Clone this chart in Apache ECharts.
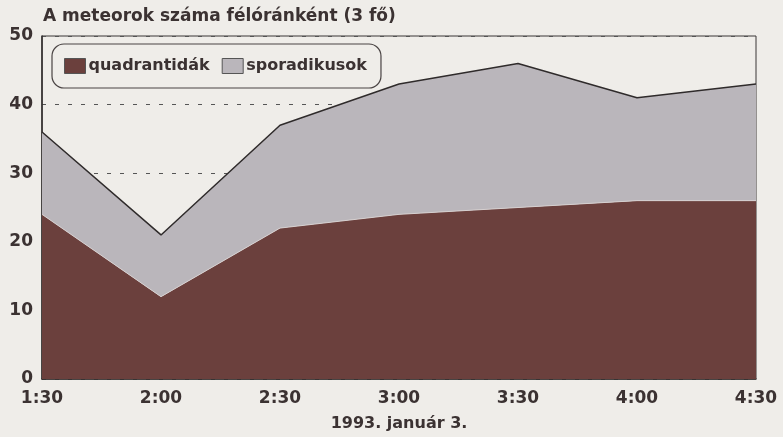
<!DOCTYPE html>
<html>
<head>
<meta charset="utf-8">
<script src="https://cdn.jsdelivr.net/npm/echarts@6/dist/echarts.min.js"></script>
<style>
  html, body { margin: 0; padding: 0; background: #efede9; }
  #chart { width: 783px; height: 437px; }
</style>
</head>
<body>
<div id="chart"></div>
<script>
// félórás időpontok
const times = ['1:30', '2:00', '2:30', '3:00', '3:30', '4:00', '4:30']
const quadrantidak = [24, 12, 22, 24, 25, 26, 26]
const sporadikusok = [12, 9, 15, 19, 21, 15, 17]
const yTicks = [0, 10, 20, 30, 40, 50]

const font = 'DejaVu Sans'
const ink = '#3b3232'

const chart = echarts.init(document.getElementById('chart'))
chart.setOption({
  backgroundColor: '#efede9',
  animation: false,
  title: {
    text: 'A meteorok száma félóránként (3 fő)',
    left: 38,
    top: 3,
    textStyle: { fontFamily: font, fontWeight: 'bold', fontSize: 17, color: ink }
  },
  legend: {
    left: 52,
    top: 44,
    icon: 'rect',
    itemWidth: 21,
    itemHeight: 15,
    itemGap: 12,
    padding: [14, 14, 14, 12],
    borderColor: '#4a4444',
    borderWidth: 1.2,
    borderRadius: 12,
    itemStyle: { borderColor: '#555', borderWidth: 1 },
    textStyle: { fontFamily: font, fontWeight: 'bold', fontSize: 16, color: ink, padding: [0, 0, 0, -2] },
    data: ['quadrantidák', 'sporadikusok']
  },
  grid: {
    left: 42,
    right: 27,
    top: 36,
    bottom: 52,
    show: true,
    borderColor: '#3a3636',
    borderWidth: 1
  },
  xAxis: {
    type: 'category',
    data: times,
    boundaryGap: false,
    name: '1993. január 3.',
    nameLocation: 'middle',
    nameGap: 37,
    nameTextStyle: { fontFamily: font, fontWeight: 'bold', fontSize: 16, color: ink },
    axisLine: { lineStyle: { color: '#2e2a2a', width: 1.5 } },
    axisTick: { show: false },
    axisLabel: { fontFamily: font, fontWeight: 'bold', fontSize: 17, color: ink, margin: 11 },
    splitLine: { show: false }
  },
  yAxis: {
    type: 'value',
    min: yTicks[0],
    max: yTicks[yTicks.length - 1],
    interval: 10,
    axisLine: { show: true, lineStyle: { color: '#2e2a2a', width: 1.5 } },
    axisTick: { show: false },
    axisLabel: { fontFamily: font, fontWeight: 'bold', fontSize: 17, color: ink, margin: 9 },
    splitLine: { lineStyle: { color: '#555', type: [4, 9], width: 1 } }
  },
  series: [
    {
      name: 'quadrantidák',
      type: 'line',
      stack: 'total',
      symbol: 'none',
      color: '#6b403d',
      lineStyle: { color: '#d6d0d0', width: 1 },
      areaStyle: { color: '#6b403d', opacity: 1 },
      data: quadrantidak
    },
    {
      name: 'sporadikusok',
      type: 'line',
      stack: 'total',
      symbol: 'none',
      color: '#bab6bb',
      lineStyle: { color: '#2f2b2b', width: 1.5 },
      areaStyle: { color: '#bab6bb', opacity: 1 },
      data: sporadikusok
    }
  ]
})
</script>
</body>
</html>
